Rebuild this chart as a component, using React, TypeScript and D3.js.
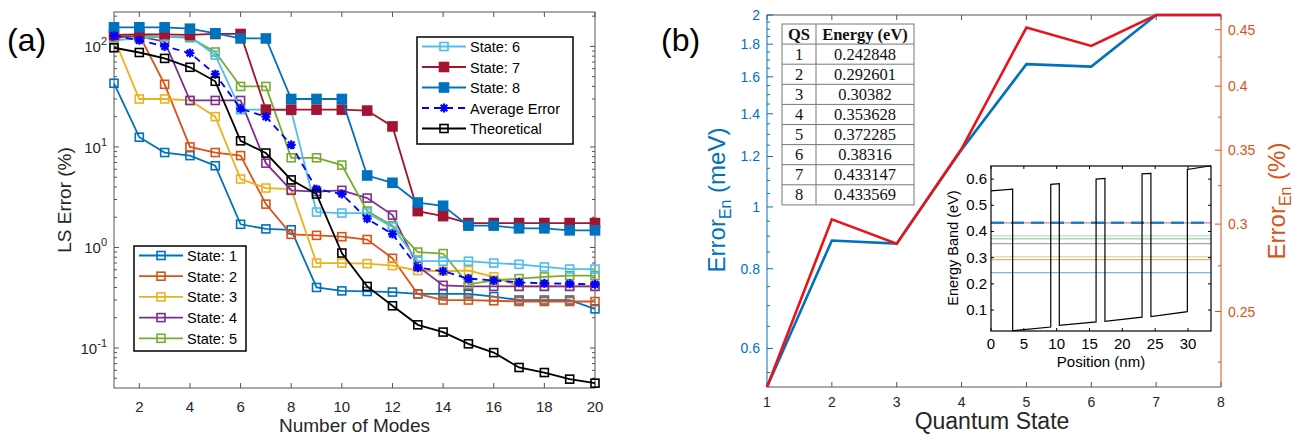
import React from 'react';
import * as d3 from 'd3';

const FONT = '"Liberation Sans", Arial, Helvetica, sans-serif';
const SERIF = '"Liberation Serif", "Times New Roman", serif';

// panel (a): least-squares error vs number of modes
const modes = [1, 2, 3, 4, 5, 6, 7, 8, 9, 10, 11, 12, 13, 14, 15, 16, 17, 18, 19, 20];
const state1 = [43, 12.5, 8.8, 8.2, 6.5, 1.7, 1.53, 1.5, 0.4, 0.37, 0.365, 0.36, 0.345, 0.345, 0.345, 0.325, 0.3, 0.3, 0.3, 0.245];
const state2 = [120, 130, 42, 10, 8.8, 8.2, 2.7, 1.35, 1.32, 1.28, 1.2, 0.78, 0.345, 0.3, 0.3, 0.295, 0.29, 0.29, 0.29, 0.29];
const state3 = [120, 30, 30, 29, 20, 4.8, 3.9, 3.8, 0.7, 0.7, 0.69, 0.66, 0.59, 0.58, 0.59, 0.51, 0.41, 0.41, 0.41, 0.41];
const state4 = [125, 125, 112, 29, 29, 29, 6.9, 3.7, 3.6, 3.7, 3.1, 2.1, 0.65, 0.42, 0.41, 0.41, 0.41, 0.41, 0.41, 0.41];
const state5 = [130, 128, 125, 122, 88, 40, 40, 7.8, 7.8, 6.6, 2.3, 1.65, 0.9, 0.87, 0.43, 0.47, 0.49, 0.51, 0.525, 0.525];
const state6 = [115, 120, 125, 125, 82, 23.5, 23.5, 23, 2.25, 2.2, 2.2, 1.6, 0.73, 0.73, 0.73, 0.7, 0.68, 0.64, 0.61, 0.61];
const state7 = [130, 132, 132, 130, 133, 133, 23.5, 23.5, 23.5, 23.5, 23, 16, 2.3, 2.05, 1.75, 1.75, 1.75, 1.75, 1.75, 1.75];
const state8 = [155, 155, 155, 150, 135, 120, 120, 30, 30, 30, 5.2, 4.4, 2.8, 2.6, 1.65, 1.65, 1.55, 1.55, 1.48, 1.48];
const averageError = [128, 115, 100, 86, 53, 24, 20, 10.5, 3.8, 3.4, 1.93, 1.36, 0.63, 0.58, 0.49, 0.47, 0.45, 0.44, 0.435, 0.43];
const theoretical = [97, 87, 76, 62, 45, 11.5, 8.7, 4.7, 3.4, 0.88, 0.41, 0.263, 0.17, 0.144, 0.11, 0.09, 0.064, 0.057, 0.049, 0.0447];

// panel (b): energy error per quantum state
const quantumStates = [1, 2, 3, 4, 5, 6, 7, 8];
const errorMeV = [0.522, 0.886, 0.876, 1.23, 1.675, 1.66, 2.0, 2.0];
const errorPercent = [0.2136, 0.303, 0.288, 0.351, 0.452, 0.435, 0.464, 0.464];
const energies = [0.242848, 0.292601, 0.30382, 0.353628, 0.372285, 0.38316, 0.433147, 0.433569];
const leftTicks = [0.6, 0.8, 1, 1.2, 1.4, 1.6, 1.8, 2];
const rightTicks = [0.25, 0.3, 0.35, 0.4, 0.45];

// inset: conduction band profile
const bandX = [0, 3.3, 3.3, 9.1, 9.1, 10.4, 10.4, 16.0, 16.0, 17.35, 17.35, 23.0, 23.0, 24.35, 24.35, 29.9, 29.9, 33.5];
const bandY = [0.555, 0.562, 0.021, 0.035, 0.58, 0.583, 0.042, 0.055, 0.6, 0.603, 0.057, 0.073, 0.62, 0.622, 0.075, 0.094, 0.637, 0.651];

const C = {
  blue: '#0072BD', orange: '#D95319', yellow: '#EDB120', purple: '#7E2F8E',
  green: '#77AC30', cyan: '#4DBEEE', red: '#A2142F',
};

const seriesA = [
  { label: 'State: 1', values: state1, color: C.blue, marker: 'open' },
  { label: 'State: 2', values: state2, color: C.orange, marker: 'open' },
  { label: 'State: 3', values: state3, color: C.yellow, marker: 'open' },
  { label: 'State: 4', values: state4, color: C.purple, marker: 'open' },
  { label: 'State: 5', values: state5, color: C.green, marker: 'open' },
  { label: 'State: 6', values: state6, color: C.cyan, marker: 'open' },
  { label: 'State: 7', values: state7, color: C.red, marker: 'filled' },
  { label: 'State: 8', values: state8, color: C.blue, marker: 'filled' },
  { label: 'Average Error', values: averageError, color: '#0000FF', marker: 'star', dash: '7,5' },
  { label: 'Theoretical', values: theoretical, color: '#000000', marker: 'open' },
];

const levelColors = [C.blue, C.orange, C.yellow, C.purple, C.green, C.cyan, C.red, C.blue];

function Marker({ kind, x, y, color }: any) {
  if (kind === 'star') {
    const s = 4.5, k = 3.3;
    return <path d={`M${x - s},${y}H${x + s}M${x},${y - s}V${y + s}M${x - k},${y - k}L${x + k},${y + k}M${x - k},${y + k}L${x + k},${y - k}`}
      stroke={color} strokeWidth={2.2} />;
  }
  const h = kind === 'filled' ? 4.5 : 4;
  return <rect x={x - h} y={y - h} width={2 * h} height={2 * h}
    fill={kind === 'filled' ? color : 'none'} stroke={color} strokeWidth={1.6} />;
}

function Legend({ items, x, y, w, h, rowH }: any) {
  return (
    <g>
      <rect x={x} y={y} width={w} height={h} fill="#fff" stroke="#000" strokeWidth={1.5} />
      {items.map((s: any, i: number) => {
        const cy = y + 9.5 + i * rowH;
        return (
          <g key={s.label}>
            <line x1={x + 5} x2={x + 49} y1={cy} y2={cy} stroke={s.color} strokeWidth={1.8} strokeDasharray={s.dash} />
            <Marker kind={s.marker} x={x + 27} y={cy} color={s.color} />
            <text x={x + 53} y={cy + 5.5} fontSize={14.5}>{s.label}</text>
          </g>
        );
      })}
    </g>
  );
}

function PanelA() {
  const L = 114, R = 595, T = 12, B = 388;
  const x = d3.scaleLinear().domain([1, 20]).range([L, R]);
  const y = d3.scaleLog().domain([0.04, 220]).range([B, T]);
  const line = d3.line<number>().x((_, i) => x(modes[i])).y(d => y(d));
  const minor: number[] = [];
  [-2, -1, 0, 1, 2].forEach(k => [2, 3, 4, 5, 6, 7, 8, 9].forEach(m => {
    const v = m * Math.pow(10, k);
    if (v > 0.04 && v < 220) minor.push(v);
  }));
  const major = [0.1, 1, 10, 100];
  const exps = ['-1', '0', '1', '2'];
  return (
    <g fontFamily={FONT} fill="#262626">
      <text x={7} y={51} fontSize={32} fill="#000">(a)</text>
      <rect x={L} y={T} width={R - L} height={B - T} fill="#fff" stroke="#555" strokeWidth={1} />
      {x.ticks(10).map(t => (
        <g key={t}>
          <line x1={x(t)} x2={x(t)} y1={B} y2={B - 5} stroke="#555" />
          <line x1={x(t)} x2={x(t)} y1={T} y2={T + 5} stroke="#555" />
          <text x={x(t)} y={411.5} fontSize={15} textAnchor="middle">{t}</text>
        </g>
      ))}
      {major.map((t, i) => (
        <g key={t}>
          <line x1={L} x2={L + 5} y1={y(t)} y2={y(t)} stroke="#555" />
          <line x1={R} x2={R - 5} y1={y(t)} y2={y(t)} stroke="#555" />
          <text x={107} y={y(t) + 6} fontSize={15} textAnchor="end">10<tspan dy={-7} fontSize={11}>{exps[i]}</tspan></text>
        </g>
      ))}
      {minor.map(t => (
        <g key={t}>
          <line x1={L} x2={L + 3} y1={y(t)} y2={y(t)} stroke="#555" />
          <line x1={R} x2={R - 3} y1={y(t)} y2={y(t)} stroke="#555" />
        </g>
      ))}
      {seriesA.map(s => (
        <g key={s.label}>
          <path d={line(s.values) || ''} fill="none" stroke={s.color} strokeWidth={1.8} strokeDasharray={s.dash} />
          {s.values.map((v, i) => <Marker key={i} kind={s.marker} x={x(modes[i])} y={y(v)} color={s.color} />)}
        </g>
      ))}
      <text transform={`translate(71,200) rotate(-90)`} fontSize={19} textAnchor="middle">LS Error (%)</text>
      <text x={(L + R) / 2} y={432} fontSize={19} textAnchor="middle">Number of Modes</text>
      <g fill="#000">
        <Legend items={seriesA.slice(0, 5)} x={134} y={246} w={112} h={105} rowH={20.7} />
        <Legend items={seriesA.slice(5)} x={417} y={37} w={156} h={107} rowH={20.5} />
      </g>
    </g>
  );
}

function EnergyTable() {
  const x0 = 782, x1 = 816, x2 = 914, y0 = 24, rh = 20.1;
  const rows = quantumStates.map((q, i) => [String(q), String(energies[i])]);
  const n = rows.length + 1;
  return (
    <g fontFamily={SERIF} fontSize={16.5} fill="#111">
      <rect x={x0} y={y0} width={x2 - x0} height={n * rh} fill="#fff" stroke="#777" />
      <line x1={x1} x2={x1} y1={y0} y2={y0 + n * rh} stroke="#777" />
      {d3.range(1, n).map(i => <line key={i} x1={x0} x2={x2} y1={y0 + i * rh} y2={y0 + i * rh} stroke="#777" />)}
      <text x={(x0 + x1) / 2} y={y0 + 15.5} textAnchor="middle" fontWeight="bold">QS</text>
      <text x={(x1 + x2) / 2} y={y0 + 15.5} textAnchor="middle" fontWeight="bold">Energy (eV)</text>
      {rows.map((r, i) => (
        <g key={i}>
          <text x={(x0 + x1) / 2} y={y0 + (i + 1) * rh + 15.5} textAnchor="middle">{r[0]}</text>
          <text x={(x1 + x2) / 2} y={y0 + (i + 1) * rh + 15.5} textAnchor="middle">{r[1]}</text>
        </g>
      ))}
    </g>
  );
}

function Inset() {
  const L = 991, R = 1211, T = 166, B = 331;
  const x = d3.scaleLinear().domain([0, 33.5]).range([L, R]);
  const y = d3.scaleLinear().domain([0.02, 0.65]).range([B, T]);
  const band = d3.line<number>().x(d => x(d)).y((_, i) => y(bandY[i]));
  const xt = [0, 5, 10, 15, 20, 25, 30];
  const yt = [0.1, 0.2, 0.3, 0.4, 0.5, 0.6];
  return (
    <g fontFamily={FONT} fill="#000">
      <rect x={L} y={T} width={R - L} height={B - T} fill="#fff" />
      {energies.map((e, i) => (
        <line key={i} x1={L} x2={R} y1={y(e)} y2={y(e)}
          stroke={levelColors[i]} strokeOpacity={i === 7 ? 0.85 : 0.5}
          strokeWidth={i === 7 ? 2.6 : 1.3} strokeDasharray={i === 7 ? '13,7' : undefined} />
      ))}
      <path d={band(bandX) || ''} fill="none" stroke="#000" strokeWidth={1.2} />
      <rect x={L} y={T} width={R - L} height={B - T} fill="none" stroke="#000" strokeWidth={1.2} />
      {xt.map(t => (
        <g key={t}>
          <line x1={x(t)} x2={x(t)} y1={B} y2={B - 3} stroke="#000" />
          <line x1={x(t)} x2={x(t)} y1={T} y2={T + 3} stroke="#000" />
          <text x={x(t)} y={349} fontSize={15} textAnchor="middle">{t}</text>
        </g>
      ))}
      {yt.map(t => (
        <g key={t}>
          <line x1={L} x2={L + 3} y1={y(t)} y2={y(t)} stroke="#000" />
          <line x1={R} x2={R - 3} y1={y(t)} y2={y(t)} stroke="#000" />
          <text x={L - 4} y={y(t) + 5} fontSize={15} textAnchor="end">{d3.format('.1f')(t)}</text>
        </g>
      ))}
      <text x={(L + R) / 2} y={367} fontSize={15} textAnchor="middle">Position (nm)</text>
      <text transform={`translate(958,248) rotate(-90)`} fontSize={14.5} textAnchor="middle">Energy Band (eV)</text>
    </g>
  );
}

function PanelB() {
  const L = 767, R = 1221, T = 15, B = 387;
  const x = d3.scaleLinear().domain([1, 8]).range([L, R]);
  const yL = d3.scaleLog().domain([0.522, 2]).range([B, T]);
  const yR = d3.scaleLog().domain([0.2136, 0.464]).range([B, T]);
  const lineL = d3.line<number>().x((_, i) => x(quantumStates[i])).y(d => yL(d));
  const lineR = d3.line<number>().x((_, i) => x(quantumStates[i])).y(d => yR(d));
  const leftMinor = d3.range(11, 40).map(k => k * 0.05).filter(v => !leftTicks.some(t => Math.abs(t - v) < 1e-6));
  const rightMinor = d3.range(9, 19).map(k => k * 0.025).filter(v => !rightTicks.some(t => Math.abs(t - v) < 1e-6));
  return (
    <g fontFamily={FONT}>
      <text x={661} y={51} fontSize={32} fill="#000">(b)</text>
      <line x1={L} x2={R} y1={T} y2={T} stroke="#555" />
      <line x1={L} x2={R} y1={B} y2={B} stroke="#555" />
      {quantumStates.map(t => (
        <g key={t}>
          <line x1={x(t)} x2={x(t)} y1={B} y2={B - 5} stroke="#555" />
          <line x1={x(t)} x2={x(t)} y1={T} y2={T + 5} stroke="#555" />
          <text x={x(t)} y={406.5} fontSize={14} fill="#262626" textAnchor="middle">{t}</text>
        </g>
      ))}
      <line x1={L} x2={L} y1={T} y2={B} stroke={C.blue} />
      {leftTicks.map(t => (
        <g key={t}>
          <line x1={L} x2={L + 6} y1={yL(t)} y2={yL(t)} stroke={C.blue} />
          <text x={760} y={yL(t) + 5} fontSize={14} fill={C.blue} textAnchor="end">{t}</text>
        </g>
      ))}
      {leftMinor.map(t => <line key={t} x1={L} x2={L + 3} y1={yL(t)} y2={yL(t)} stroke={C.blue} />)}
      <line x1={R} x2={R} y1={T} y2={B} stroke={C.orange} />
      {rightTicks.map(t => (
        <g key={t}>
          <line x1={R} x2={R - 6} y1={yR(t)} y2={yR(t)} stroke={C.orange} />
          <text x={1228} y={yR(t) + 5} fontSize={14} fill={C.orange}>{t}</text>
        </g>
      ))}
      {rightMinor.map(t => <line key={t} x1={R} x2={R - 3} y1={yR(t)} y2={yR(t)} stroke={C.orange} />)}
      <path d={lineL(errorMeV) || ''} fill="none" stroke={C.blue} strokeWidth={2.6} />
      <path d={lineR(errorPercent) || ''} fill="none" stroke="#E8141B" strokeWidth={2.6} />
      <EnergyTable />
      <Inset />
      <text transform={`translate(725,200) rotate(-90)`} fontSize={24} fill={C.blue} textAnchor="middle">
        Error<tspan dy={6} fontSize={16}>En</tspan><tspan dy={-6}> (meV)</tspan>
      </text>
      <text transform={`translate(1285,201) rotate(-90)`} fontSize={24} fill={C.orange} textAnchor="middle">
        Error<tspan dy={6} fontSize={16}>En</tspan><tspan dy={-6}> (%)</tspan>
      </text>
      <text x={(L + R) / 2 - 2} y={429} fontSize={23} fill="#262626" textAnchor="middle">Quantum State</text>
    </g>
  );
}

export default function App() {
  return (
    <svg width={1308} height={440} style={{ position: 'absolute', left: 0, top: 0, background: '#fff' }}>
      <rect width={1308} height={440} fill="#fff" />
      <PanelA />
      <PanelB />
    </svg>
  );
}
